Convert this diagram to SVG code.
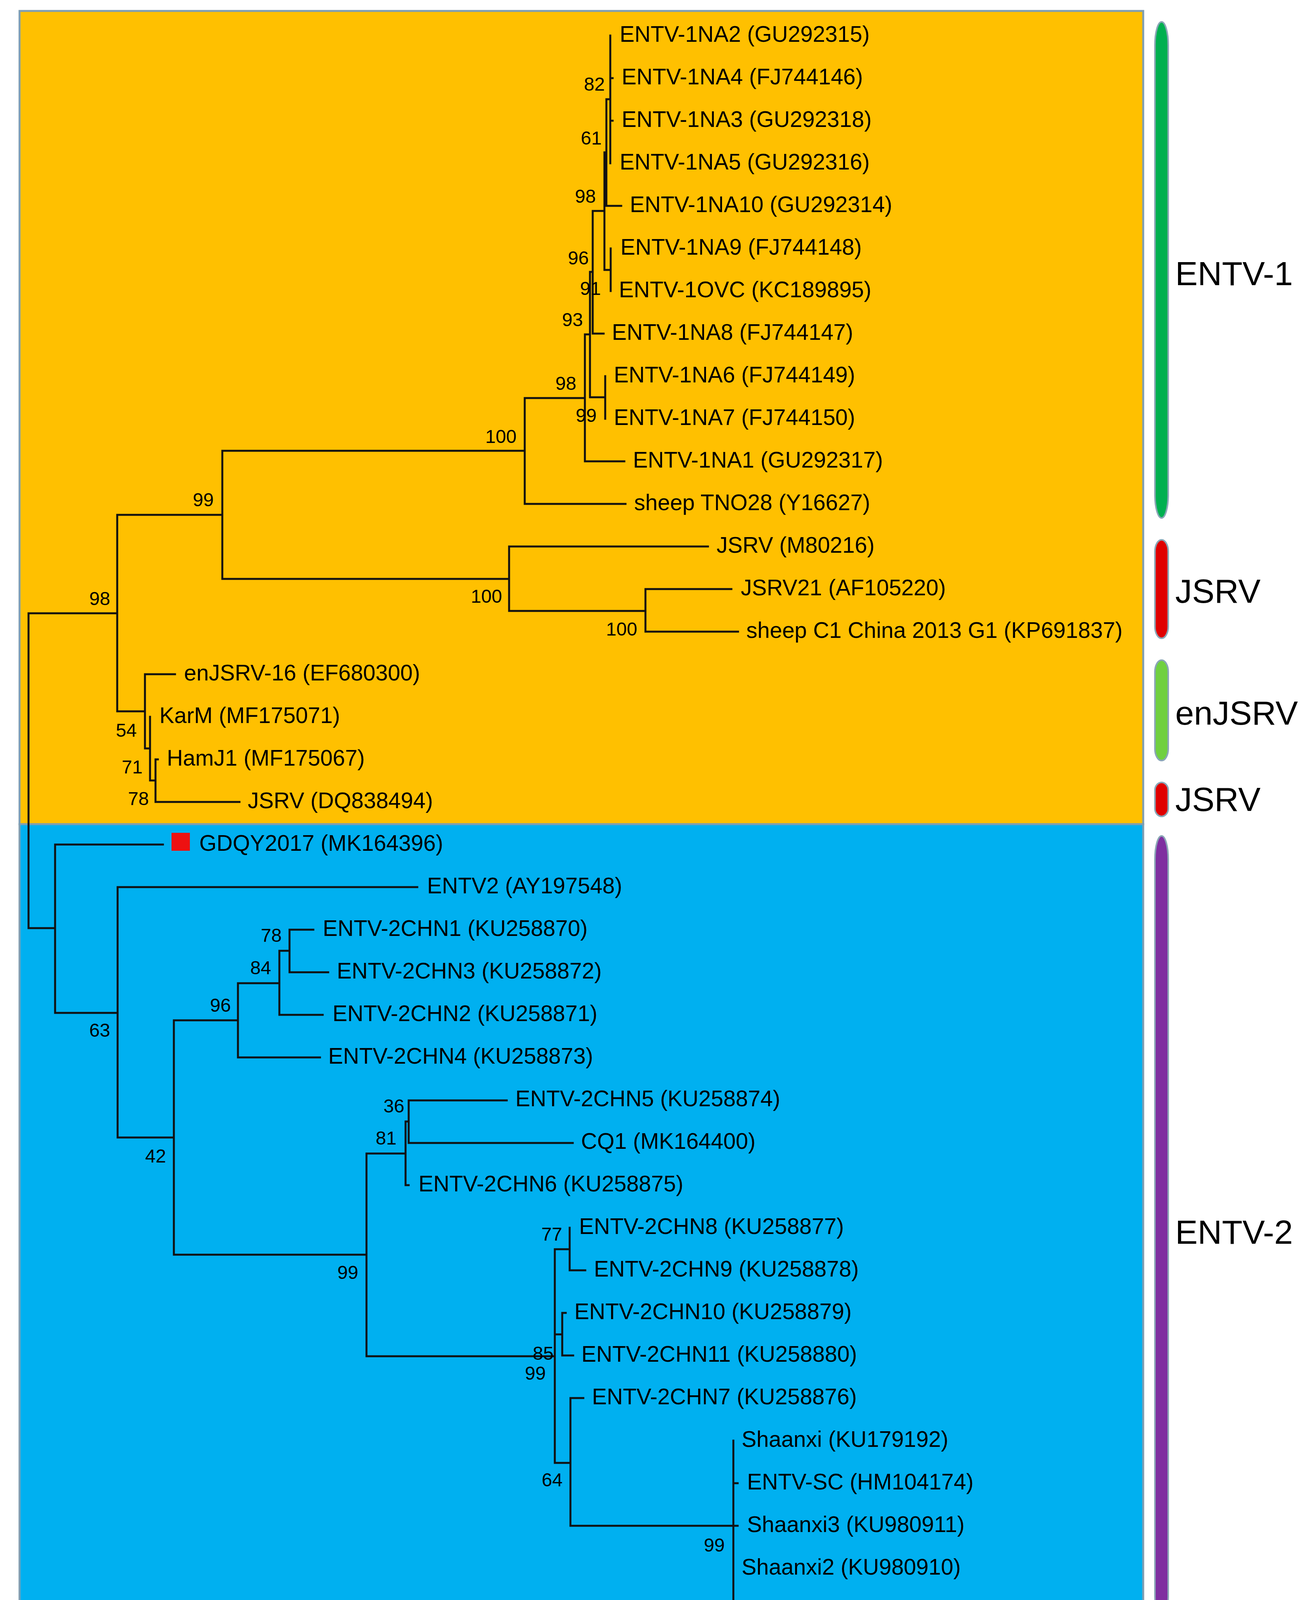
<svg xmlns="http://www.w3.org/2000/svg" width="3358" height="4398" viewBox="0 0 3358 4398">
<style>
.leaf{font-family:"Liberation Sans",Arial,sans-serif;font-size:57px;fill:#000}
.bs{font-family:"Liberation Sans",Arial,sans-serif;font-size:48px;fill:#000;text-anchor:end}
.grp{font-family:"Liberation Sans",Arial,sans-serif;font-size:86px;fill:#000}
.br{fill:none;stroke:#111;stroke-width:5;stroke-linecap:square}
.bar{stroke:#8aa6b6;stroke-width:4}
.panel{stroke:#7f9eb2;stroke-width:5}
</style>
<rect width="3358" height="4398" fill="#fff"/>
<g id="panels">
<rect class="panel" x="50" y="28" width="2876" height="2082" fill="#FFC000"/>
<rect class="panel" x="50" y="2110" width="2876" height="2040" fill="#00B0F0"/>
</g>
<g id="connectors">
<path class="br" d="M73 1570V2376M73 1570H300M73 2376H141
M300 1318V1821M300 1318H569M300 1821H371
M569 1154V1482M569 1154H1343M569 1482H1303
M1343 1019V1290M1343 1019H1497M1343 1290H1601
M1497 856V1181M1497 856H1510M1497 1181H1598
M1510 696V1017M1510 696H1517M1510 1017H1549
M1517 540V854M1517 540H1547M1517 854H1545
M1547 390V691M1547 390H1552M1547 691H1563
M1552 254V527M1552 254H1562M1552 527H1590
M1562 91V418M1562 200H1568M1562 309H1568
M1563 636V745
M1549 963V1072
M1303 1399V1564M1303 1399H1812M1303 1564H1652
M1652 1508V1617M1652 1508H1872M1652 1617H1889
M371 1726V1916M371 1726H448M371 1916H384
M384 1835V1998M384 1998H398
M398 1944V2053M398 1944H404M398 2053H613
M141 2162V2593M141 2162H417M141 2593H301
M301 2271V2912M301 2271H1068M301 2912H445
M445 2612V3212M445 2612H609M445 3212H938
M609 2517V2707M609 2517H715M609 2707H819
M715 2434V2598M715 2434H741M715 2598H826
M741 2380V2489M741 2380H802M741 2489H840
M938 2953V3472M938 2953H1038M938 3472H1420
M1038 2871V3034M1038 2871H1046M1038 3034H1046
M1046 2817V2926M1046 2817H1297M1046 2926H1466
M1420 3198V3745M1420 3198H1458M1420 3416H1439M1420 3745H1460
M1458 3143V3252M1458 3252H1498
M1439 3361V3470M1439 3361H1448M1439 3470H1467
M1460 3579V3906M1460 3579H1493M1460 3906H1888
M1877 3688V4124M1877 3797H1888"/>
</g>
<g id="support">
<text class="bs" x="1322" y="1134">100</text>
<text class="bs" x="547" y="1296">99</text>
<text class="bs" x="282" y="1549">98</text>
<text class="bs" x="1285" y="1543">100</text>
<text class="bs" x="1631" y="1627">100</text>
<text class="bs" x="1475" y="998">98</text>
<text class="bs" x="1492" y="835">93</text>
<text class="bs" x="1507" y="677">96</text>
<text class="bs" x="1525" y="519">98</text>
<text class="bs" x="1540" y="370">61</text>
<text class="bs" x="1548" y="232">82</text>
<text class="bs" x="1538" y="755">91</text>
<text class="bs" x="1527" y="1080">99</text>
<text class="bs" x="350" y="1886">54</text>
<text class="bs" x="365" y="1980">71</text>
<text class="bs" x="381" y="2061">78</text>
<text class="bs" x="282" y="2654">63</text>
<text class="bs" x="425" y="2976">42</text>
<text class="bs" x="591" y="2590">96</text>
<text class="bs" x="694" y="2494">84</text>
<text class="bs" x="721" y="2411">78</text>
<text class="bs" x="1035" y="2848">36</text>
<text class="bs" x="1015" y="2930">81</text>
<text class="bs" x="917" y="3274">99</text>
<text class="bs" x="1439" y="3176">77</text>
<text class="bs" x="1417" y="3481">85</text>
<text class="bs" x="1397" y="3532">99</text>
<text class="bs" x="1440" y="3805">64</text>
<text class="bs" x="1855" y="3972">99</text>
</g>
<g id="leaf-1NA2"><text class="leaf" x="1586" y="107">ENTV-1NA2 (GU292315)</text></g>
<g id="leaf-1NA4"><text class="leaf" x="1591" y="216">ENTV-1NA4 (FJ744146)</text></g>
<g id="leaf-1NA3"><text class="leaf" x="1591" y="325">ENTV-1NA3 (GU292318)</text></g>
<g id="leaf-1NA5"><text class="leaf" x="1586" y="434">ENTV-1NA5 (GU292316)</text></g>
<g id="leaf-1NA10"><text class="leaf" x="1612" y="543">ENTV-1NA10 (GU292314)</text></g>
<g id="leaf-1NA9"><text class="leaf" x="1588" y="652">ENTV-1NA9 (FJ744148)</text></g>
<g id="leaf-1OVC"><text class="leaf" x="1584" y="761">ENTV-1OVC (KC189895)</text></g>
<g id="leaf-1NA8"><text class="leaf" x="1566" y="870">ENTV-1NA8 (FJ744147)</text></g>
<g id="leaf-1NA6"><text class="leaf" x="1571" y="979">ENTV-1NA6 (FJ744149)</text></g>
<g id="leaf-1NA7"><text class="leaf" x="1571" y="1088">ENTV-1NA7 (FJ744150)</text></g>
<g id="leaf-1NA1"><text class="leaf" x="1620" y="1197">ENTV-1NA1 (GU292317)</text></g>
<g id="leaf-TNO28"><text class="leaf" x="1623" y="1306">sheep TNO28 (Y16627)</text></g>
<g id="leaf-M80216"><text class="leaf" x="1834" y="1415">JSRV (M80216)</text></g>
<g id="leaf-JSRV21"><text class="leaf" x="1896" y="1524">JSRV21 (AF105220)</text></g>
<g id="leaf-C1"><text class="leaf" x="1910" y="1633">sheep C1 China 2013 G1 (KP691837)</text></g>
<g id="leaf-enJSRV16"><text class="leaf" x="471" y="1742">enJSRV-16 (EF680300)</text></g>
<g id="leaf-KarM"><text class="leaf" x="408" y="1851">KarM (MF175071)</text></g>
<g id="leaf-HamJ1"><text class="leaf" x="427" y="1960">HamJ1 (MF175067)</text></g>
<g id="leaf-DQ838494"><text class="leaf" x="634" y="2069">JSRV (DQ838494)</text></g>
<g id="leaf-GDQY2017"><rect x="439" y="2132" width="47" height="46" fill="#ee1111"/><text class="leaf" x="510" y="2178">GDQY2017 (MK164396)</text></g>
<g id="leaf-ENTV2"><text class="leaf" x="1093" y="2287">ENTV2 (AY197548)</text></g>
<g id="leaf-2CHN1"><text class="leaf" x="826" y="2396">ENTV-2CHN1 (KU258870)</text></g>
<g id="leaf-2CHN3"><text class="leaf" x="862" y="2505">ENTV-2CHN3 (KU258872)</text></g>
<g id="leaf-2CHN2"><text class="leaf" x="851" y="2614">ENTV-2CHN2 (KU258871)</text></g>
<g id="leaf-2CHN4"><text class="leaf" x="840" y="2723">ENTV-2CHN4 (KU258873)</text></g>
<g id="leaf-2CHN5"><text class="leaf" x="1319" y="2832">ENTV-2CHN5 (KU258874)</text></g>
<g id="leaf-CQ1"><text class="leaf" x="1487" y="2941">CQ1 (MK164400)</text></g>
<g id="leaf-2CHN6"><text class="leaf" x="1071" y="3050">ENTV-2CHN6 (KU258875)</text></g>
<g id="leaf-2CHN8"><text class="leaf" x="1482" y="3159">ENTV-2CHN8 (KU258877)</text></g>
<g id="leaf-2CHN9"><text class="leaf" x="1520" y="3268">ENTV-2CHN9 (KU258878)</text></g>
<g id="leaf-2CHN10"><text class="leaf" x="1470" y="3377">ENTV-2CHN10 (KU258879)</text></g>
<g id="leaf-2CHN11"><text class="leaf" x="1488" y="3486">ENTV-2CHN11 (KU258880)</text></g>
<g id="leaf-2CHN7"><text class="leaf" x="1515" y="3595">ENTV-2CHN7 (KU258876)</text></g>
<g id="leaf-Shaanxi"><text class="leaf" x="1898" y="3704">Shaanxi (KU179192)</text></g>
<g id="leaf-ENTVSC"><text class="leaf" x="1912" y="3813">ENTV-SC (HM104174)</text></g>
<g id="leaf-Shaanxi3"><text class="leaf" x="1912" y="3922">Shaanxi3 (KU980911)</text></g>
<g id="leaf-Shaanxi2"><text class="leaf" x="1898" y="4031">Shaanxi2 (KU980910)</text></g>
<g id="leaf-Shaanxi4"><text class="leaf" x="1898" y="4140">Shaanxi4 (KU980912)</text></g>
<g id="group-ENTV1"><rect class="bar" x="2956" y="56" width="34" height="1270" rx="17" ry="60" fill="#00B050"/><text class="grp" x="3008" y="730">ENTV-1</text></g>
<g id="group-JSRV"><rect class="bar" x="2956" y="1382" width="34" height="252" rx="17" ry="30" fill="#E00000"/><text class="grp" x="3008" y="1543">JSRV</text></g>
<g id="group-enJSRV"><rect class="bar" x="2956" y="1690" width="34" height="257" rx="17" ry="30" fill="#70D040"/><text class="grp" x="3008" y="1855">enJSRV</text></g>
<g id="group-JSRV2"><rect class="bar" x="2956" y="2003" width="34" height="87" rx="17" ry="20" fill="#E00000"/><text class="grp" x="3008" y="2076">JSRV</text></g>
<g id="group-ENTV2"><rect class="bar" x="2956" y="2140" width="34" height="2007" rx="17" ry="60" fill="#7F2FA0"/><text class="grp" x="3008" y="3184">ENTV-2</text></g>
<g id="scalebar">
<path d="M298 4277H534" stroke="#000" stroke-width="8"/>
<path d="M298 4256V4298M534 4256V4298" stroke="#000" stroke-width="5"/>
<text x="418" y="4355" text-anchor="middle" font-family="Liberation Serif,serif" font-size="56" fill="#222">0.02</text>
</g>
<g id="legend">
<rect x="934" y="4263" width="144" height="42" fill="#FFC000" stroke="#7f9eb2" stroke-width="4"/>
<text class="grp" x="1148" y="4311">Sheep-origin</text>
<rect x="1849" y="4266" width="147" height="41" fill="#00B0F0" stroke="#7f9eb2" stroke-width="4"/>
<text class="grp" x="2064" y="4311">Goat-origin</text>
</g>
</svg>
